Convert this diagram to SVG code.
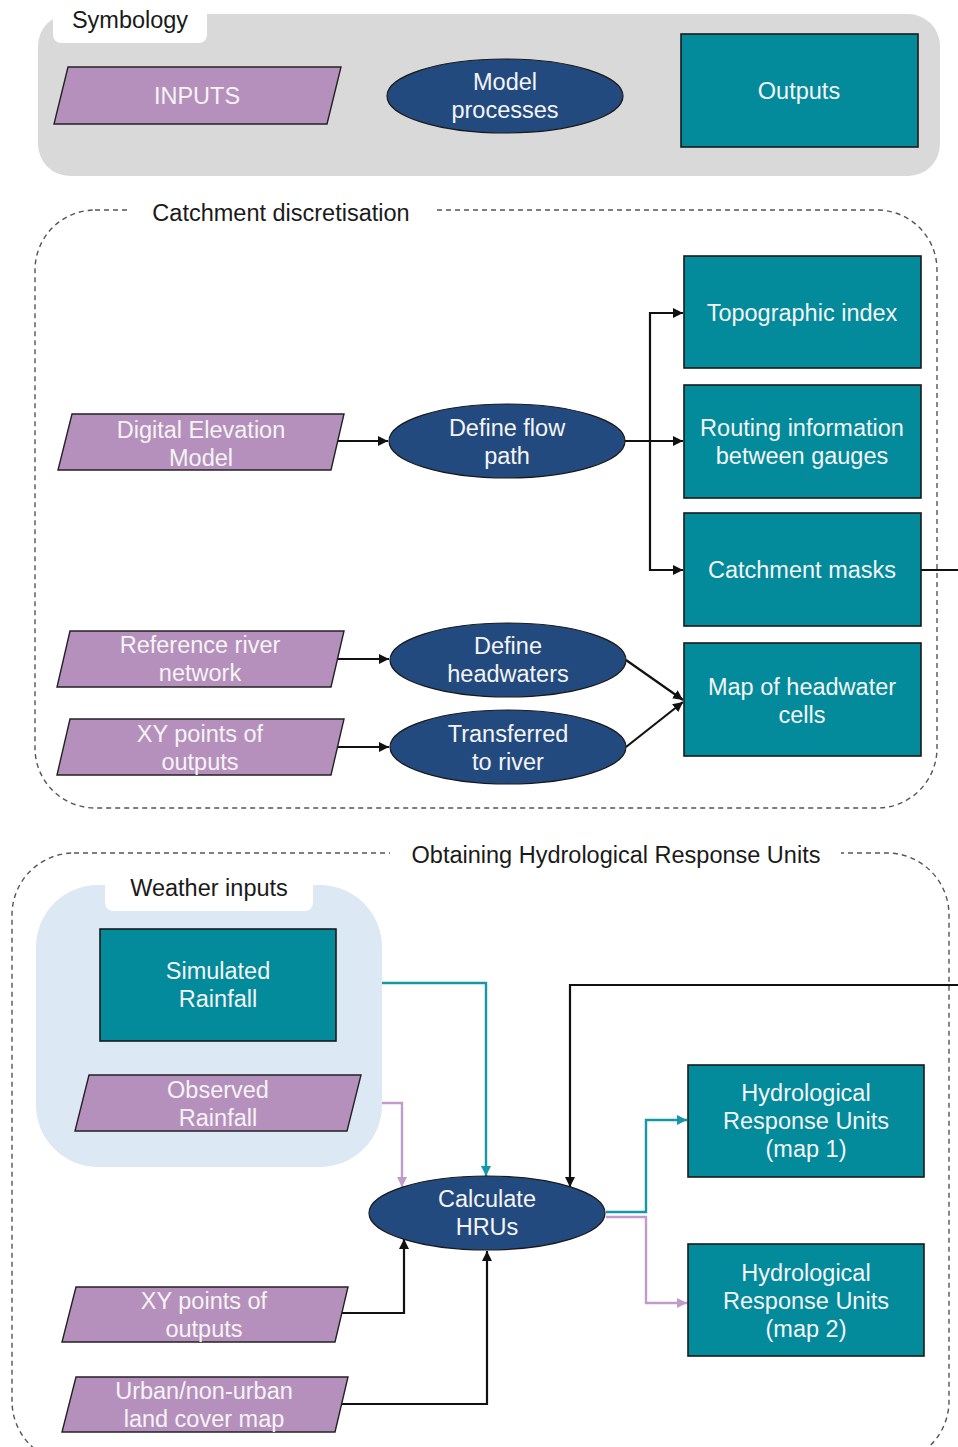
<svg xmlns="http://www.w3.org/2000/svg" width="958" height="1447" viewBox="0 0 958 1447">
<defs>
<style>
text{font-family:"Liberation Sans",Arial,sans-serif;font-size:23.5px;text-anchor:middle}
.lbl{fill:#1a1a1a}
.w{fill:#f4f4f4}
.inp{fill:#b690bc;stroke:#222;stroke-width:1.4}
.proc{fill:#234a7e;stroke:#1a1a1a;stroke-width:1.2}
.out{fill:#038a9b;stroke:#1a1a1a;stroke-width:1.6}
.dash{fill:none;stroke:#555;stroke-width:1.4;stroke-dasharray:5 4}
.c{fill:none;stroke:#111;stroke-width:2.2}
.ct{fill:none;stroke:#1597a7;stroke-width:2.4}
.cp{fill:none;stroke:#c09ccb;stroke-width:2.4}
</style>
<marker id="ab" viewBox="0 0 10 10" refX="10" refY="5" markerWidth="10" markerHeight="10" markerUnits="userSpaceOnUse" orient="auto"><path d="M0,0 L10,5 L0,10 z" fill="#111"/></marker>
<marker id="at" viewBox="0 0 10 10" refX="10" refY="5" markerWidth="10" markerHeight="10" markerUnits="userSpaceOnUse" orient="auto"><path d="M0,0 L10,5 L0,10 z" fill="#1597a7"/></marker>
<marker id="ap" viewBox="0 0 10 10" refX="10" refY="5" markerWidth="10" markerHeight="10" markerUnits="userSpaceOnUse" orient="auto"><path d="M0,0 L10,5 L0,10 z" fill="#c09ccb"/></marker>
</defs>
<rect width="958" height="1447" fill="#fff"/>

<!-- Symbology -->
<g id="symbology">
<rect x="38" y="14" width="902" height="162" rx="32" fill="#d9d9d9"/>
<rect x="53" y="-10" width="154" height="53" rx="8" fill="#fff"/>
<text class="lbl" x="130" y="28">Symbology</text>
</g>
<g id="sym-inputs">
<polygon class="inp" points="68,67 341,67 327,124 54,124"/>
<text class="w" x="197" y="104">INPUTS</text>
</g>
<g id="sym-process">
<ellipse class="proc" cx="505" cy="96" rx="118" ry="37"/>
<text class="w" x="505" y="90">Model</text>
<text class="w" x="505" y="118">processes</text>
</g>
<g id="sym-outputs">
<rect class="out" x="681" y="34" width="237" height="113"/>
<text class="w" x="799" y="99">Outputs</text>
</g>

<!-- Catchment discretisation frame -->
<g id="catchment-frame">
<rect class="dash" x="35" y="210" width="902" height="598" rx="60"/>
<rect x="130" y="200" width="304" height="22" fill="#fff"/>
<text class="lbl" x="281" y="221">Catchment discretisation</text>
</g>

<!-- HRU frame -->
<g id="hru-frame">
<rect class="dash" x="12" y="853" width="937" height="610" rx="62"/>
<rect x="390" y="843" width="451" height="22" fill="#fff"/>
<text class="lbl" x="616" y="863">Obtaining Hydrological Response Units</text>
</g>

<g id="weather-group">
<rect x="36" y="885" width="346" height="282" rx="62" fill="#dde8f5"/>
<rect x="105" y="868" width="208" height="43" rx="8" fill="#fff"/>
<text class="lbl" x="209" y="896">Weather inputs</text>
</g>

<!-- Connectors -->
<g id="connectors">
<path class="c" d="M337,441 H388" marker-end="url(#ab)"/>
<path class="c" d="M625,441 H683" marker-end="url(#ab)"/>
<path class="c" d="M683,313 H650 V570 H683" />
<path class="c" d="M650,313 H683" marker-end="url(#ab)"/>
<path class="c" d="M650,570 H683" marker-end="url(#ab)"/>
<path class="c" d="M921,570 H958"/>
<path class="c" d="M337,659 H389" marker-end="url(#ab)"/>
<path class="c" d="M337,747 H389" marker-end="url(#ab)"/>
<path class="c" d="M626,660 L683,700" marker-end="url(#ab)"/>
<path class="c" d="M626,747 L683,702" marker-end="url(#ab)"/>

<path class="ct" d="M382,983 H486 V1176" marker-end="url(#at)"/>
<path class="cp" d="M382,1103 H402 V1187" marker-end="url(#ap)"/>
<path class="c" d="M958,985 H570 V1187" marker-end="url(#ab)"/>
<path class="c" d="M341,1313 H404 V1239" marker-end="url(#ab)"/>
<path class="c" d="M341,1404 H487 V1251" marker-end="url(#ab)"/>
<path class="ct" d="M606,1212 H646 V1120 H687" marker-end="url(#at)"/>
<path class="cp" d="M606,1217 H646 V1303 H687" marker-end="url(#ap)"/>
</g>

<!-- Catchment nodes -->
<g id="dem">
<polygon class="inp" points="72,414 344,414 331,470 58,470"/>
<text class="w" x="201" y="438">Digital Elevation</text>
<text class="w" x="201" y="466">Model</text>
</g>
<g id="define-flow">
<ellipse class="proc" cx="507" cy="441" rx="118" ry="37"/>
<text class="w" x="507" y="436">Define flow</text>
<text class="w" x="507" y="464">path</text>
</g>
<g id="topo">
<rect class="out" x="684" y="256" width="237" height="112"/>
<text class="w" x="802" y="321">Topographic index</text>
</g>
<g id="routing">
<rect class="out" x="684" y="385" width="237" height="113"/>
<text class="w" x="802" y="436">Routing information</text>
<text class="w" x="802" y="464">between gauges</text>
</g>
<g id="masks">
<rect class="out" x="684" y="513" width="237" height="113"/>
<text class="w" x="802" y="578">Catchment masks</text>
</g>
<g id="river">
<polygon class="inp" points="70,631 344,631 331,687 57,687"/>
<text class="w" x="200" y="653">Reference river</text>
<text class="w" x="200" y="681">network</text>
</g>
<g id="xy1">
<polygon class="inp" points="70,719 344,719 331,775 57,775"/>
<text class="w" x="200" y="742">XY points of</text>
<text class="w" x="200" y="770">outputs</text>
</g>
<g id="headwaters">
<ellipse class="proc" cx="508" cy="660" rx="118" ry="37"/>
<text class="w" x="508" y="654">Define</text>
<text class="w" x="508" y="682">headwaters</text>
</g>
<g id="transferred">
<ellipse class="proc" cx="508" cy="747" rx="118" ry="37"/>
<text class="w" x="508" y="742">Transferred</text>
<text class="w" x="508" y="770">to river</text>
</g>
<g id="headwater-map">
<rect class="out" x="684" y="643" width="237" height="113"/>
<text class="w" x="802" y="695">Map of headwater</text>
<text class="w" x="802" y="723">cells</text>
</g>

<!-- HRU nodes -->
<g id="simulated">
<rect class="out" x="100" y="929" width="236" height="112"/>
<text class="w" x="218" y="979">Simulated</text>
<text class="w" x="218" y="1007">Rainfall</text>
</g>
<g id="observed">
<polygon class="inp" points="89,1075 361,1075 347,1131 75,1131"/>
<text class="w" x="218" y="1098">Observed</text>
<text class="w" x="218" y="1126">Rainfall</text>
</g>
<g id="calc-hrus">
<ellipse class="proc" cx="487" cy="1213" rx="118" ry="37"/>
<text class="w" x="487" y="1207">Calculate</text>
<text class="w" x="487" y="1235">HRUs</text>
</g>
<g id="hru1">
<rect class="out" x="688" y="1065" width="236" height="112"/>
<text class="w" x="806" y="1101">Hydrological</text>
<text class="w" x="806" y="1129">Response Units</text>
<text class="w" x="806" y="1157">(map 1)</text>
</g>
<g id="hru2">
<rect class="out" x="688" y="1244" width="236" height="112"/>
<text class="w" x="806" y="1281">Hydrological</text>
<text class="w" x="806" y="1309">Response Units</text>
<text class="w" x="806" y="1337">(map 2)</text>
</g>
<g id="xy2">
<polygon class="inp" points="76,1287 348,1287 335,1342 62,1342"/>
<text class="w" x="204" y="1309">XY points of</text>
<text class="w" x="204" y="1337">outputs</text>
</g>
<g id="urban">
<polygon class="inp" points="76,1377 348,1377 335,1432 62,1432"/>
<text class="w" x="204" y="1399">Urban/non-urban</text>
<text class="w" x="204" y="1427">land cover map</text>
</g>
</svg>
